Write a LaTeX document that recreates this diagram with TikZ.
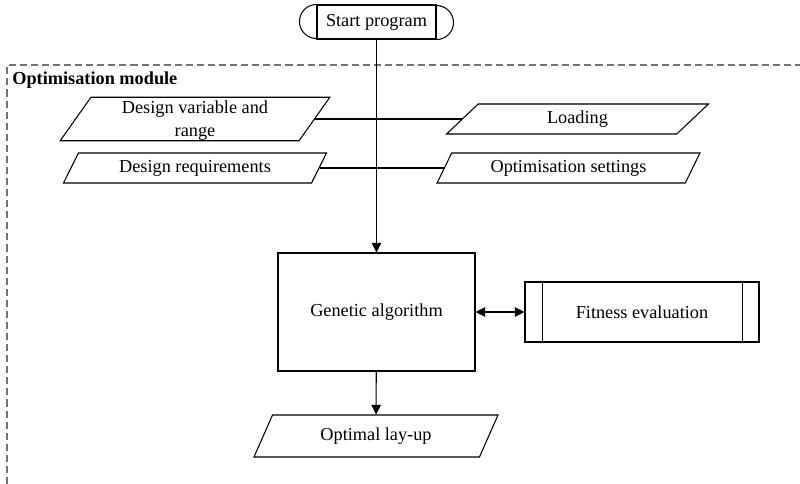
\documentclass[tikz,border=0pt]{standalone}
\usepackage{fontspec}
\setmainfont{Liberation Serif}
\usetikzlibrary{arrows.meta,shapes,positioning,calc}
\colorlet{frame grey}{black!55}
\tikzstyle{txt} = [font=\fontsize{10.4pt}{13pt}\selectfont]
\tikzstyle{io} = [txt,trapezium,trapezium left angle=63,trapezium right angle=117,trapezium stretches=true,draw,line width=0.6pt,inner sep=1pt,align=center]
\tikzstyle{box} = [txt,rectangle,draw,line width=0.6pt,align=center]
\tikzstyle{link} = [line width=0.6pt]
\tikzstyle{flow} = [line width=0.6pt,-{Triangle[length=5.5pt,width=5.5pt]}]
\tikzstyle{both} = [line width=0.6pt,{Triangle[length=5.5pt,width=5.5pt]}-{Triangle[length=5.5pt,width=5.5pt]}]

\begin{document}
\begin{tikzpicture}[x=0.2mm,y=-0.2mm]
		\useasboundingbox (0,0) rectangle (800,484);
		\draw[frame grey,line width=0.6pt,dash pattern=on 4pt off 2.3pt] (7,484) to (7,65) to (800,65);
		\node[txt,font=\fontsize{10.4pt}{13pt}\selectfont\bfseries,anchor=west,inner sep=0pt] (title) at (12,80) {Optimisation module};
		
		\node[box,minimum width=23.8mm,minimum height=6.8mm] (start) at (376.5,22) {Start program};
		\draw[link] (start.north west) arc[start angle=90,end angle=270,radius=3.4mm];
		\draw[link] (start.south east) arc[start angle=-90,end angle=90,radius=3.4mm];
		
		\node[io,inner ysep=0pt,minimum width=54mm,minimum height=8.4mm] (dvar) at (195,119) {\rule{0pt}{9pt}Design variable and\\[0.5pt]range};
		\node[io,minimum width=52.8mm,minimum height=6mm] (dreq) at (195,168) {Design requirements};
		\node[io,minimum width=52.6mm,minimum height=6mm] (load) at (577.5,119) {Loading};
		\node[io,minimum width=52.6mm,minimum height=6mm] (opts) at (568.5,168) {Optimisation settings};
		\draw[link] (dvar.right side) to (load.left side);
		\draw[link] (dreq.right side) to (opts.left side);
		
		\node[box,minimum width=39.4mm,minimum height=23.6mm] (ga) at (376.5,312) {Genetic algorithm};
		\node[box,minimum width=46.8mm,minimum height=12mm] (fit) at (642,312) {Fitness evaluation};
		\draw[link] ($(fit.north west)+(18,0)$) to ($(fit.south west)+(18,0)$);
		\draw[link] ($(fit.north east)+(-17,0)$) to ($(fit.south east)+(-17,0)$);
		
		\node[io,minimum width=49.2mm,minimum height=8.4mm] (best) at (376,436) {Optimal lay-up};
		
		\draw[flow] (start) to (ga);
		\draw[flow] (ga) to (best);
		\draw[both] (ga) to (fit);
	\end{tikzpicture}
\end{document}
